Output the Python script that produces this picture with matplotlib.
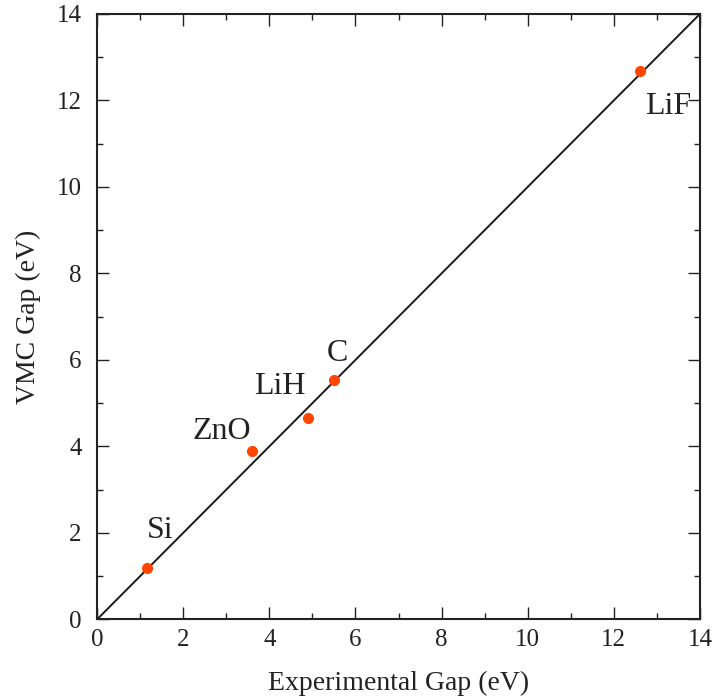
import numpy as np
import matplotlib
matplotlib.use("Agg")
import matplotlib.pyplot as plt
from matplotlib.ticker import MultipleLocator

# band gaps (eV)
materials = ["Si", "ZnO", "LiH", "C", "LiF"]
exp_gap = [1.17, 3.59, 4.89, 5.50, 12.61]
vmc_gap = [1.20, 3.89, 4.65, 5.54, 12.68]
# label offsets from each point, in pixels
label_offsets = [(13, 30), (-30, 12), (-28, 24), (4, 19), (28, -43)]

plt.rcParams["font.family"] = ["Liberation Serif", "DejaVu Serif"]

fig = plt.figure(figsize=(7.15, 6.96), dpi=100)
ax = fig.add_axes([0.1357, 0.110, 0.979 - 0.1357, 0.980 - 0.110])

# y = x reference line
ax.plot([0, 14], [0, 14], color="#1a1a1a", lw=1.4, zorder=2)
ax.plot(exp_gap, vmc_gap, "o", color="#ff4500", ms=8, mec="none", zorder=3)

for name, x, y, off in zip(materials, exp_gap, vmc_gap, label_offsets):
    ax.annotate(name, (x, y), xytext=off, textcoords="offset pixels",
                ha="center", va="baseline", fontsize=23, color="#222222")

ax.set_xlim(0, 14)
ax.set_ylim(0, 14)
ax.xaxis.set_major_locator(MultipleLocator(2))
ax.yaxis.set_major_locator(MultipleLocator(2))
ax.xaxis.set_minor_locator(MultipleLocator(1))
ax.yaxis.set_minor_locator(MultipleLocator(1))
ax.tick_params(which="both", direction="in", top=True, right=True,
               labelsize=18, colors="#222222", width=1.0)
ax.tick_params(which="major", length=8.5)
ax.tick_params(which="minor", length=4)
ax.tick_params(axis="y", which="major", pad=11)
ax.tick_params(axis="x", which="major", pad=7)
for s in ax.spines.values():
    s.set_linewidth(1.5)
    s.set_color("#222222")

ax.set_xlabel("Experimental Gap (eV)", fontsize=20, color="#222222", labelpad=14)
ax.set_ylabel("VMC Gap (eV)", fontsize=20, color="#222222", labelpad=11)

fig.savefig("out.png", dpi=100)
